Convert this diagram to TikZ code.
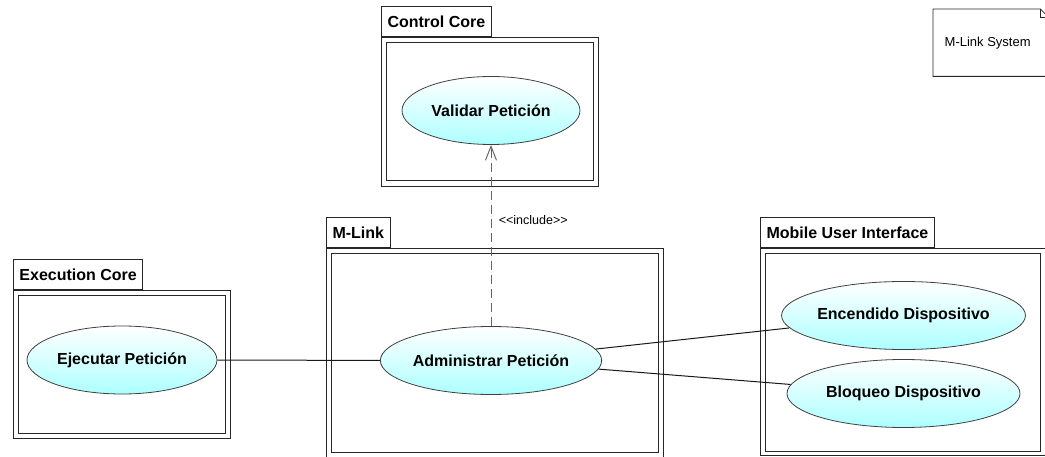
\documentclass[tikz,border=0pt]{standalone}
\usepackage{fontspec}
\setmainfont{Liberation Sans}
\usetikzlibrary{positioning, calc, arrows.meta, shapes.geometric, shadings}

\tikzset{
  pkgbox/.style={draw=black!85, line width=1pt, fill=white, anchor=north west, inner sep=0},
  pkgtab/.style={draw=black!85, line width=1pt, fill=white, anchor=south west, minimum height=30pt,
                 inner xsep=6pt, font=\fontsize{16pt}{19pt}\selectfont\bfseries},
  pkgline/.style={draw=black!85, line width=1pt},
  usecase/.style={ellipse, draw=black!75, line width=0.8pt, top color=white, bottom color=cyan!32,
                  inner sep=0, minimum height=68pt, font=\fontsize{16pt}{19pt}\selectfont\bfseries},
  assoc/.style={draw=black!90, line width=1pt},
  incl/.style={draw=black!60, line width=1pt, dash pattern=on 9pt off 5pt,
               -{Straight Barb[length=14pt,width=11pt]}},
  notebox/.style={anchor=north west, minimum width=115pt, minimum height=67pt, inner sep=0,
                  font=\fontsize{13pt}{15pt}\selectfont}
}

\begin{document}
\begin{tikzpicture}[x=1pt,y=-1pt]
  \useasboundingbox (0,0) rectangle (1045,457);

  % packages
  \node[pkgbox, minimum width=217pt, minimum height=149pt] (ctrl) at (381,37) {};
  \node[pkgtab] (ctrlTab) at (ctrl.north west) {Control Core};
  \draw[pkgline] ([shift={(5,6)}]ctrl.north west) rectangle ([shift={(-6,-6)}]ctrl.south east);

  \node[pkgbox, minimum width=217pt, minimum height=148pt] (exec) at (13,290) {};
  \node[pkgtab] (execTab) at (exec.north west) {Execution Core};
  \draw[pkgline] ([shift={(5,6)}]exec.north west) rectangle ([shift={(-6,-6)}]exec.south east);

  \node[pkgbox, minimum width=337pt, minimum height=210pt] (mlink) at (326,248) {};
  \node[pkgtab] (mlinkTab) at (mlink.north west) {M-Link};
  \draw[pkgline] ([shift={(5,6)}]mlink.north west) rectangle ([shift={(-6,-7)}]mlink.south east);

  \node[pkgbox, minimum width=286pt, minimum height=207pt] (mobile) at (760,248) {};
  \node[pkgtab] (mobileTab) at (mobile.north west) {Mobile User Interface};
  \draw[pkgline] ([shift={(5,6)}]mobile.north west) rectangle ([shift={(-7,-5)}]mobile.south east);

  % note
  \node[notebox] (note) at (933,9) {\hspace*{-6pt}M-Link System};
  \draw[pkgline, line width=0.8pt] (note.north west) -- ([xshift=-8pt]note.north east)
        -- ([yshift=-8pt]note.north east) -- (note.south east) -- (note.south west) -- cycle;
  \draw[pkgline, line width=0.8pt] ([xshift=-8pt]note.north east) |- ([yshift=-8pt]note.north east);

  % use cases
  \node[usecase, minimum width=178pt] (val) at (491,110.5) {Validar Petición};
  \node[usecase, minimum width=215pt] (adm) at (491,360.5) {Administrar Petición};
  \node[usecase, minimum width=190pt] (exe) at (122,360) {Ejecutar Petición};
  \node[usecase, minimum width=233pt] (enc) at (903.5,315.5) {Encendido Dispositivo};
  \node[usecase, minimum width=233pt] (blo) at (903.5,393.5) {Bloqueo Dispositivo};

  % connectors
  \draw[assoc] (exe) -- (adm);
  \draw[assoc] (adm) -- (enc);
  \draw[assoc] (adm) -- (blo);
  \draw[incl] (adm) -- node[pos=0.585, anchor=west, xshift=4pt, font=\fontsize{12.5pt}{14pt}\selectfont]
        {<{}<include>{}>} (val);
\end{tikzpicture}
\end{document}
